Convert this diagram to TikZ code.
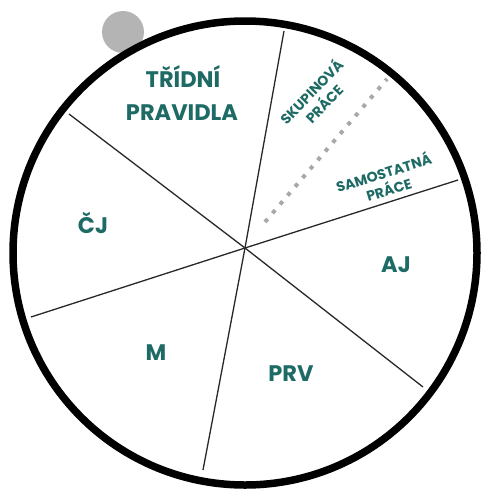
\documentclass[tikz,border=0pt]{standalone}
\usepackage{fontspec}
\setmainfont{Poppins}
\definecolor{teal1}{RGB}{30,106,100}
\definecolor{dotgray}{RGB}{168,168,168}
\definecolor{ballgray}{RGB}{180,180,180}
\definecolor{divline}{RGB}{40,40,40}
\begin{document}
\begin{tikzpicture}[x=1pt,y=-1pt,
  bigtxt/.style={text=teal1,font=\fontsize{22.5}{33}\selectfont\bfseries,inner sep=0pt,anchor=base},
  smalltxt/.style={text=teal1,font=\fontsize{14}{17.5}\selectfont\bfseries,inner sep=0pt,align=center},
  divider/.style={draw=divline,line width=1.3pt},
  ring/.style={draw=black,line width=7.5pt}]
\useasboundingbox[fill=white] (0,0) rectangle (483,490);
% gray ball behind ring
\fill[ballgray] (123,32) circle[radius=21];
% dividers
\coordinate (c) at (245,248);
\coordinate (a1) at (284,31);
\coordinate (a2) at (203,470);
\coordinate (b1) at (69,114);
\coordinate (b2) at (423,387);
\coordinate (d1) at (31,317);
\coordinate (d2) at (458,180);
\coordinate (p1) at (265,222);
\coordinate (p2) at (387,79);
\draw[divider] (a1) -- (c) -- (a2);
\draw[divider] (b1) -- (c) -- (b2);
\draw[divider] (d1) -- (c) -- (d2);
\draw[dotgray,line width=4pt,dash pattern=on 4pt off 7.6pt] (p1) -- (p2);
% ring
\draw[ring] (245,253) circle[radius=232];
% labels
\node[bigtxt] (t1) at (183,87.5) {TŘÍDNÍ};
\node[bigtxt] (t2) at (182,120.5) {PRAVIDLA};
\node[bigtxt] (cj) at (93,233) {ČJ};
\node[bigtxt] (aj) at (396,272) {AJ};
\node[bigtxt] (m) at (156,360) {M};
\node[bigtxt] (prv) at (291,381) {PRV};
\node[smalltxt,rotate=46] (sk) at (317,97) {SKUPINOVÁ\\PRÁCE};
\node[smalltxt,rotate=17] (sa) at (386,180) {SAMOSTATNÁ\\PRÁCE};
\end{tikzpicture}
\end{document}
